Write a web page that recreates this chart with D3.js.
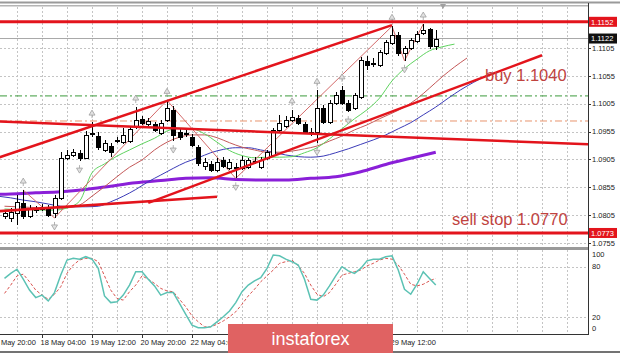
<html>
<head>
<meta charset="utf-8">
<style>
  body { margin: 0; background: #fff; }
  text { font-family: "Liberation Sans", Arial, sans-serif; }
</style>
</head>
<body>
<script src="https://cdn.jsdelivr.net/npm/d3@7"></script>
<script>
var width = 620, height = 353;

// H4 candles, bar 0 is the first one on the left
var open = [1.0804,1.0800,1.0809,1.0827,1.0804,1.0814,1.0816,1.0818,1.0809,1.0836,
  1.0908,1.0913,1.0916,1.0908,1.0952,1.0947,1.0922,1.0929,1.0938,1.0936,
  1.0938,1.0963,1.0977,1.0968,1.0968,1.0952,1.0975,1.0994,1.0954,1.0952,
  1.0945,1.0927,1.0893,1.0897,1.0886,1.0904,1.0889,1.0891,1.0889,1.0891,
  1.0902,1.0891,1.0907,1.0913,1.0958,1.0965,1.0976,1.0979,1.0968,1.0954,
  1.0954,1.0997,1.0972,1.1006,1.1029,1.1006,1.0997,1.1017,1.1081,1.1076,
  1.1074,1.1096,1.1114,1.1128,1.1096,1.1105,1.1117,1.1132,1.1139,1.1108];
var high = [1.0814,1.0818,1.0841,1.0850,1.0823,1.0821,1.0825,1.0823,1.0841,1.0918,
  1.0922,1.0924,1.0922,1.0956,1.0972,1.0954,1.0940,1.0934,1.0945,1.0961,
  1.0965,1.0999,1.0983,1.0979,1.0972,1.0975,1.1011,1.1001,1.0959,1.0958,
  1.0950,1.0931,1.0907,1.0902,1.0907,1.0909,1.0906,1.0898,1.0911,1.0907,
  1.0909,1.0909,1.0922,1.0961,1.0985,1.0983,1.0994,1.0985,1.0972,1.0961,
  1.1029,1.1003,1.1012,1.1026,1.1037,1.1012,1.1024,1.1089,1.1090,1.1087,
  1.1101,1.1119,1.1144,1.1134,1.1108,1.1123,1.1135,1.1148,1.1141,1.1137];
var low = [1.0798,1.0793,1.0787,1.0798,1.0800,1.0809,1.0812,1.0802,1.0800,1.0832,
  1.0904,1.0909,1.0902,1.0906,1.0945,1.0922,1.0918,1.0909,1.0934,1.0933,
  1.0934,1.0959,1.0967,1.0965,1.0954,1.0949,1.0972,1.0938,1.0940,1.0945,
  1.0927,1.0893,1.0886,1.0882,1.0882,1.0889,1.0886,1.0871,1.0886,1.0888,
  1.0897,1.0888,1.0904,1.0909,1.0954,1.0961,1.0972,1.0967,1.0950,1.0947,
  1.0934,1.0968,1.0968,1.1003,1.1003,1.0990,1.0994,1.1013,1.1065,1.1071,
  1.1071,1.1092,1.1110,1.1090,1.1082,1.1101,1.1114,1.1128,1.1103,1.1101];
var close = [1.0809,1.0811,1.0829,1.0804,1.0818,1.0816,1.0820,1.0805,1.0836,1.0908,
  1.0913,1.0918,1.0908,1.0949,1.0951,1.0927,1.0934,1.0918,1.0940,1.0949,
  1.0959,1.0976,1.0970,1.0974,1.0958,1.0970,1.0997,1.0949,1.0945,1.0950,
  1.0931,1.0898,1.0900,1.0886,1.0900,1.0893,1.0900,1.0889,1.0904,1.0904,
  1.0900,1.0904,1.0918,1.0958,1.0970,1.0976,1.0981,1.0970,1.0954,1.0952,
  1.0997,1.0972,1.1006,1.1020,1.1006,1.0994,1.1020,1.1083,1.1074,1.1078,
  1.1098,1.1116,1.1128,1.1096,1.1105,1.1119,1.1130,1.1137,1.1108,1.1122];

// time labels that are not hidden under the watermark
var timeLabels = ["15 May 20:00","18 May 04:00","19 May 12:00","20 May 20:00","22 May 04:00","29 May 12:00"];
var timeLabelBars = [-2, 6, 14, 22, 30, 62];
var timeTickBars = [-2, 6, 14, 22, 30, 38, 46, 54, 62];
var priceTicks = [1.0755, 1.0805, 1.0855, 1.0905, 1.0955, 1.1005, 1.1055, 1.1105];
var stochTicks = [0, 20, 80, 100];

// alligator: one value every 2 bars
var jaw = [1.0839,1.0836,1.0832,1.0829,1.0825,1.0821,1.0820,1.0820,1.0821,1.0829,
  1.0839,1.0851,1.0865,1.0877,1.0889,1.0900,1.0908,1.0917,1.0923,1.0926,
  1.0926,1.0922,1.0918,1.0913,1.0910,1.0909,1.0911,1.0917,1.0924,1.0932,
  1.0940,1.0949,1.0960,1.0971,1.0985,1.0999,1.1015,1.1030,1.1043,1.1055]; // from bar -1
var teeth = [1.0821,1.0820,1.0819,1.0818,1.0816,1.0818,1.0823,1.0839,1.0856,1.0874,
  1.0891,1.0904,1.0922,1.0936,1.0945,1.0949,1.0949,1.0944,1.0935,1.0927,
  1.0922,1.0918,1.0918,1.0920,1.0924,1.0929,1.0938,1.0947,1.0958,1.0967,
  1.0978,1.0988,1.0999,1.1014,1.1033,1.1053,1.1071,1.1087]; // from bar 0
var lips = [1.0816,1.0815,1.0814,1.0814,1.0814,1.0818,1.0830,1.0881,1.0897,1.0911,
  1.0922,1.0933,1.0943,1.0956,1.0961,1.0960,1.0951,1.0936,1.0921,1.0912,
  1.0908,1.0909,1.0909,1.0910,1.0917,1.0926,1.0942,1.0960,1.0978,1.0994,
  1.1015,1.1046,1.1068,1.1085,1.1100,1.1107,1.1112]; // from bar 0
// slow moving average, one value every 4 bars from bar -3
var slowMa = [1.0842,1.0843,1.0845,1.0847,1.0851,1.0857,1.0863,1.0867,1.0871,1.0872,
  1.0869,1.0868,1.0868,1.0871,1.0874,1.0883,1.0896,1.0907,1.0918];

var stochMain = [66,72,77,65,52,43,46,39,49,70,
  88,90,89,92,89,78,45,37,38,46,
  58,74,74,65,57,46,49,49,36,23,
  10,7,7,8,14,20,27,37,50,58,
  63,67,78,94,93,89,86,82,65,41,
  40,46,57,69,80,75,72,78,87,89,
  89,92,93,76,53,47,59,74,66,58];
var stochSignal = [48,58,69,71,62,52,46,41,47,56,
  72,82,88,90,90,86,69,52,42,40,
  50,58,69,65,60,54,51,50,41,32,
  21,14,8,8,11,15,20,26,35,45,
  53,62,69,76,84,86,88,81,72,58,
  47,44,49,59,70,72,74,76,81,84,
  88,90,89,82,71,59,57,59,63,66];

var fractalUp = [3, 14, 21, 26, 46, 50, 54, 62, 67];
var fractalDown = [8, 12, 27, 37, 50, 55, 64];
var zigzagBars = [3, 8, 26, 37, 62, 64, 67];   // alternating high / low

var resistance = 1.1152, support = 1.0773, bid = 1.1122;
var greenLevel = 1.1019, orangeLevel = 1.0974;
var trendLines = [
  [[-1, 1.0908], [62, 1.1146]],
  [[23, 1.0827], [86, 1.1092]],
  [[-1, 1.0973], [94, 1.0932]],
  [[-1, 1.0812], [34, 1.0838]]
];

// ---------- layout
var plotRight = 588, mainTop = 7, mainBottom = 247, stochTop = 250, stochBottom = 334;

var x = d3.scaleLinear().domain([0, 69]).range([4.5, 435.75]);
var y = d3.scaleLinear().domain([1.0755, 1.1105]).range([243, 48]);
var ys = d3.scaleLinear().domain([0, 100]).range([333.5, 250]);

var svg = d3.select("body").append("svg")
  .attr("width", width).attr("height", height);
svg.append("rect").attr("width", width).attr("height", height).attr("fill", "#fff");

var defs = svg.append("defs");
defs.append("clipPath").attr("id", "cm").append("rect")
  .attr("x", 0).attr("y", mainTop).attr("width", plotRight).attr("height", mainBottom - mainTop);
defs.append("clipPath").attr("id", "cs").append("rect")
  .attr("x", 0).attr("y", stochTop).attr("width", plotRight).attr("height", stochBottom - stochTop);

var gm = svg.append("g").attr("clip-path", "url(#cm)");
var gs = svg.append("g").attr("clip-path", "url(#cs)");

// grid
var gridBars = d3.range(2, 96, 4);
[gm, gs].forEach(function (g, j) {
  g.selectAll("line.vg").data(gridBars).enter().append("line")
    .attr("x1", d => Math.round(x(d)) + 0.5).attr("x2", d => Math.round(x(d)) + 0.5)
    .attr("y1", j ? stochTop : mainTop).attr("y2", j ? stochBottom : mainBottom)
    .attr("stroke", "#c4c4c4").attr("stroke-dasharray", "2,2");
});
gm.selectAll("line.hg").data(priceTicks).enter().append("line")
  .attr("x1", 0).attr("x2", plotRight)
  .attr("y1", d => Math.round(y(d)) + 0.5).attr("y2", d => Math.round(y(d)) + 0.5)
  .attr("stroke", "#c4c4c4").attr("stroke-dasharray", "2,2");
gs.selectAll("line.hg").data([20, 80]).enter().append("line")
  .attr("x1", 0).attr("x2", plotRight)
  .attr("y1", d => Math.round(ys(d)) + 0.5).attr("y2", d => Math.round(ys(d)) + 0.5)
  .attr("stroke", "#c4c4c4").attr("stroke-dasharray", "2,2");

// horizontal levels
function hline(p, color, w, dash) {
  gm.append("line").attr("x1", 0).attr("x2", plotRight)
    .attr("y1", y(p)).attr("y2", y(p))
    .attr("stroke", color).attr("stroke-width", w)
    .attr("stroke-dasharray", dash || null);
}
hline(bid, "#a8a8a8", 1);
hline(greenLevel, "#3c9a3c", 1, "7,3,2,3");
hline(orangeLevel, "#e8956e", 1, "7,3,2,3");

// moving averages
function series(vals, first, step) { return vals.map((v, i) => [first + i * step, v]); }
var path = d3.line().x(d => x(d[0])).y(d => y(d[1])).curve(d3.curveMonotoneX);
gm.append("path").attr("d", path(series(slowMa, -3, 4)))
  .attr("fill", "none").attr("stroke", "#8a1fd8").attr("stroke-width", 3);
gm.append("path").attr("d", path(series(jaw, -1, 2)))
  .attr("fill", "none").attr("stroke", "#3b3bb8").attr("stroke-width", 1);
gm.append("path").attr("d", path(series(teeth, 0, 2)))
  .attr("fill", "none").attr("stroke", "#c45858").attr("stroke-width", 1);
gm.append("path").attr("d", path(series(lips, 0, 2)))
  .attr("fill", "none").attr("stroke", "#5fd35f").attr("stroke-width", 1);

// zigzag
var zz = zigzagBars.map((b, i) => [b, i % 2 ? low[b] : high[b]]);
gm.append("path").attr("d", d3.line().x(d => x(d[0])).y(d => y(d[1]))(zz))
  .attr("fill", "none").attr("stroke", "#d46a6a").attr("stroke-width", 1);

// candles
var idx = d3.range(open.length);
var cg = gm.append("g").attr("shape-rendering", "crispEdges");
cg.selectAll("line.w").data(idx).enter().append("line")
  .attr("x1", i => Math.round(x(i)) + 0.5).attr("x2", i => Math.round(x(i)) + 0.5)
  .attr("y1", i => y(high[i])).attr("y2", i => y(low[i]))
  .attr("stroke", "#000");
cg.selectAll("rect.b").data(idx).enter().append("rect")
  .attr("x", i => Math.round(x(i)) - 1.5)
  .attr("y", i => Math.round(y(Math.max(open[i], close[i]))) + 0.5)
  .attr("width", 4)
  .attr("height", i => Math.max(0.01, Math.round(y(Math.min(open[i], close[i]))) - Math.round(y(Math.max(open[i], close[i])))))
  .attr("fill", i => close[i] >= open[i] ? "#fff" : "#000")
  .attr("stroke", "#000");

// fractals
gm.selectAll("path.fu").data(fractalUp).enter().append("path")
  .attr("transform", i => "translate(" + x(i) + "," + (y(high[i]) - 8) + ")")
  .attr("d", "M-3,1L0,-4L3,1ZM0,1L0,4")
  .attr("fill", "#e2e2e2").attr("stroke", "#a0a0a0").attr("stroke-width", 0.8);
gm.selectAll("path.fd").data(fractalDown).enter().append("path")
  .attr("transform", i => "translate(" + x(i) + "," + (y(low[i]) + 8) + ")")
  .attr("d", "M-3,-1L0,4L3,-1ZM0,-1L0,-4")
  .attr("fill", "#e2e2e2").attr("stroke", "#a0a0a0").attr("stroke-width", 0.8);

// trend lines and key levels
gm.selectAll("line.tl").data(trendLines).enter().append("line")
  .attr("x1", d => x(d[0][0])).attr("y1", d => y(d[0][1]))
  .attr("x2", d => x(d[1][0])).attr("y2", d => y(d[1][1]))
  .attr("stroke", "#e3141c").attr("stroke-width", 2.5);
hline(resistance, "#e3141c", 3);
hline(support, "#e3141c", 3);

gm.append("text").attr("x", 485).attr("y", 81).text("buy 1.1040")
  .attr("font-size", 16.5).attr("fill", "#c0433f");
gm.append("text").attr("x", 452).attr("y", 225).text("sell stop 1.0770")
  .attr("font-size", 16.5).attr("fill", "#c0433f");

// stochastic
var sline = d3.line().x((d, i) => x(i)).y(d => ys(d));
gs.append("path").attr("d", sline(stochSignal))
  .attr("fill", "none").attr("stroke", "#d9534f").attr("stroke-width", 1).attr("stroke-dasharray", "3,2");
gs.append("path").attr("d", sline(stochMain))
  .attr("fill", "none").attr("stroke", "#5cc2b4").attr("stroke-width", 1.5);

// frame
svg.append("rect").attr("x", 0).attr("y", 1.5).attr("width", width).attr("height", 2).attr("fill", "#9a9a9a");
svg.append("rect").attr("x", 0).attr("y", 5).attr("width", plotRight).attr("height", 1.5).attr("fill", "#b4b4b4");
svg.append("rect").attr("x", 0).attr("y", 247).attr("width", plotRight).attr("height", 3).attr("fill", "#9a9a9a");
svg.append("line").attr("x1", 0).attr("x2", plotRight).attr("y1", stochBottom + 0.5).attr("y2", stochBottom + 0.5).attr("stroke", "#333");
svg.append("line").attr("x1", plotRight + 0.5).attr("x2", plotRight + 0.5).attr("y1", 3).attr("y2", stochBottom + 1).attr("stroke", "#333");
svg.append("line").attr("x1", 0).attr("x2", width).attr("y1", 352).attr("y2", 352).attr("stroke", "#444").attr("stroke-width", 1.5);

// chart shift marker
svg.append("path").attr("d", "M440,4L446,4L443,9Z").attr("fill", "#a0a0a0");

// price axis
var ax = svg.append("g").attr("font-size", 7.5).attr("fill", "#222");
ax.selectAll("text.p").data(priceTicks).enter().append("text")
  .attr("x", 592).attr("y", d => y(d) + 2.7).text(d => d.toFixed(4));
ax.selectAll("line.pt").data(priceTicks).enter().append("line")
  .attr("x1", plotRight).attr("x2", plotRight + 3).attr("y1", d => Math.round(y(d)) + 0.5).attr("y2", d => Math.round(y(d)) + 0.5)
  .attr("stroke", "#333");
ax.selectAll("text.s").data(stochTicks).enter().append("text")
  .attr("x", 592).attr("y", d => Math.min(331, Math.max(257, ys(d) + 2.7))).text(d => d);

function tag(p, bg) {
  var g = svg.append("g");
  g.append("rect").attr("x", 589).attr("y", y(p) - 5).attr("width", 28).attr("height", 10).attr("fill", bg);
  g.append("text").attr("x", 591).attr("y", y(p) + 2.7).attr("font-size", 7.5).attr("fill", "#fff").text(p.toFixed(4));
}
tag(resistance, "#e3141c");
tag(bid, "#111");
tag(support, "#e3141c");

// time axis
var tx = svg.append("g").attr("font-size", 7.5).attr("fill", "#222");
tx.selectAll("text").data(timeLabels).enter().append("text")
  .attr("x", (d, i) => x(timeLabelBars[i]) - 1.5).attr("y", 344.5).text(d => d);
tx.selectAll("line").data(timeTickBars).enter().append("line")
  .attr("x1", d => Math.round(x(d)) + 0.5).attr("x2", d => Math.round(x(d)) + 0.5)
  .attr("y1", stochBottom).attr("y2", stochBottom + 4).attr("stroke", "#333");

// watermark
svg.append("rect").attr("x", 228).attr("y", 324).attr("width", 165).attr("height", 29).attr("fill", "#e06262");
svg.append("text").attr("x", 310.5).attr("y", 345).attr("text-anchor", "middle")
  .attr("font-family", "'Open Sans', sans-serif").attr("font-weight", 300)
  .attr("font-size", 18).attr("fill", "#fff").text("instaforex");
</script>
</body>
</html>
